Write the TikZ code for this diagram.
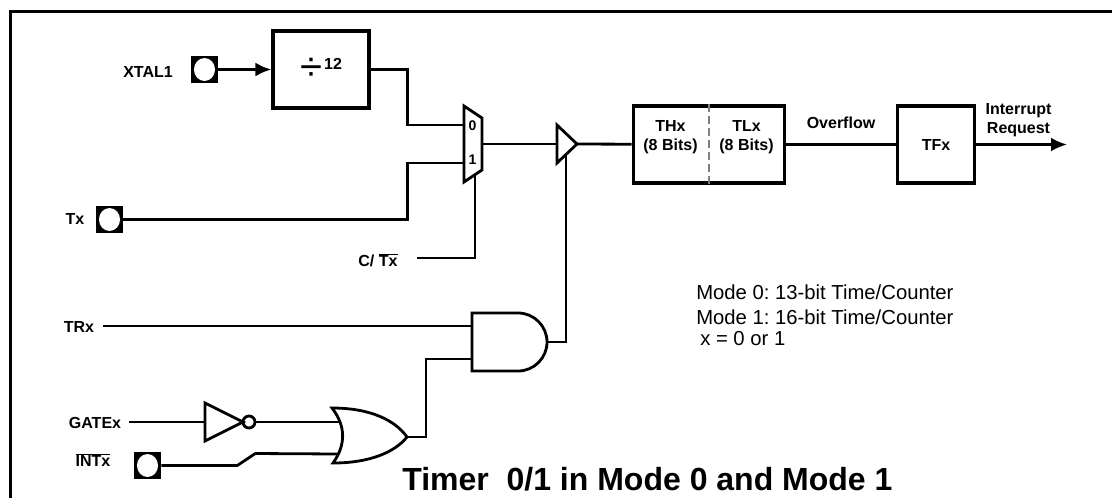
\documentclass[tikz,border=0pt]{standalone}
\usepackage{fontspec}
\setmainfont{Liberation Sans}
\usetikzlibrary{arrows.meta}
\frenchspacing

\tikzset{
        wire/.style={line width=2.1pt},
        blk/.style={draw, rectangle, line width=2.4pt, inner sep=0pt},
        lbl/.style={font=\bfseries\fontsize{12}{14.25}\selectfont, inner sep=0pt, align=center},
        pinbox/.style={rectangle, fill=black, minimum size=20.25pt, inner sep=0pt,
                path picture={\fill[white] (path picture bounding box.center) ellipse (7.9pt and 8.6pt);}},
        arr/.style={wire, -{Latex[length=12pt,width=10.5pt]}},
}

\begin{document}
\begin{tikzpicture}[x=0.75pt, y=-0.75pt]
        \useasboundingbox (0,0) rectangle (1112,497);
        \draw[line width=2.4pt] (1130,11.7) -| (10.4,510);

        \node [lbl] (xtallbl) at (148,72) {XTAL1};
        \node [pinbox] (xtal) at (204.5,69.5) {};
        \node [blk, minimum width=72pt, minimum height=57.75pt] (div) at (321,69.5)
                {{\fontsize{30}{30}\selectfont ÷}\,\raisebox{8pt}{\bfseries\fontsize{12}{12}\selectfont 12}};

        \draw[wire] (464,106) -- (482,118) -- (482,170) -- (464,182) -- cycle;
        \coordinate (mux0) at (464,125);
        \coordinate (mux1) at (464,163);
        \coordinate (muxout) at (482,144);
        \coordinate (muxsel) at (475,174.7);
        \node [lbl, font=\bfseries\fontsize{10.5}{10}\selectfont] (m0) at (472.5,126) {0};
        \node [lbl, font=\bfseries\fontsize{10.5}{10}\selectfont] (m1) at (472.5,160) {1};

        \draw[wire] (557,125) -- (577,144) -- (557,163) -- cycle;
        \coordinate (bufin) at (557,144);
        \coordinate (bufout) at (577,144);
        \coordinate (bufctl) at (566,154.5);

        \node [blk, minimum width=113.6pt, minimum height=57.75pt] (cnt) at (709,144.5) {};
        \draw[gray, line width=0.8pt, dash pattern=on 6pt off 3pt] (cnt.north) -- (cnt.south);
        \node [lbl] (thx) at (670.5,137.5) {THx\\(8 Bits)};
        \node [lbl] (tlx) at (746.5,137.5) {TLx\\(8 Bits)};
        \node [lbl] (ovf) at (841,123) {Overflow};
        \node [blk, lbl, minimum width=57.4pt, minimum height=57.75pt] (tfx) at (936,144.5) {TFx};
        \node [lbl] (irqlbl) at (1018.5,120.5) {Interrupt\\Request};
        \coordinate (irq) at (1067,144.5);

        \node [lbl] (txlbl) at (75,219) {Tx};
        \node [pinbox] (tx) at (109.5,219.5) {};
        \node [lbl] (ctlbl) at (378,260) {C/ $\overline{\hbox{Tx}}$};
        \coordinate (ctin) at (417,258);

        \node [lbl] (trlbl) at (79,327) {TRx};
        \coordinate (trin) at (103,326);
        \draw[wire] (472,313) -- (518,313) arc[start angle=90, end angle=-90, radius=21.75pt] -- (472,371) -- cycle;
        \coordinate (andA) at (472,326);
        \coordinate (andB) at (472,359);
        \coordinate (andout) at (547,342);

        \node [lbl] (gatelbl) at (95,423) {GATEx};
        \coordinate (gatein) at (129,422);
        \coordinate (invin) at (205,422);
        \draw[wire] (205,403) -- (243,422) -- (205,441) -- cycle;
        \node [circle, draw, line width=2.1pt, minimum size=9pt, inner sep=0pt] (bubble) at (249,422) {};
        \draw[wire] (332,408) .. controls (346,426) and (346,445) .. (333,463)
                .. controls (370,463) and (395,452) .. (407,437)
                .. controls (395,420) and (370,408) .. (332,408) -- cycle;
        \coordinate (orA) at (340,422);
        \coordinate (orB) at (339,454);
        \coordinate (orout) at (407,437);

        \node [lbl] (intlbl) at (93,460) {$\overline{\hbox{INTx}}$};
        \node [pinbox] (int) at (147.5,465.5) {};

        \node [font=\bfseries\fontsize{24}{24}\selectfont, anchor=base west, inner sep=0pt] (title) at (402,490)
                {Timer\ \ 0/1 in Mode 0 and Mode 1};
        \node [font=\fontsize{15.2}{17}\selectfont, anchor=west, inner sep=0pt] (mode0) at (696,292) {Mode 0: 13-bit Time/Counter};
        \node [font=\fontsize{15.2}{17}\selectfont, anchor=west, inner sep=0pt] (mode1) at (696,317) {Mode 1: 16-bit Time/Counter};
        \node [font=\fontsize{15.2}{17}\selectfont, anchor=west, inner sep=0pt] (xnote) at (700,339) {x = 0 or 1};

        \draw[arr] (xtal) -- (div);
        \draw[wire] (div.east) -- ++(37,0) |- (mux0);
        \draw[wire] (tx.east) -- ++(284,0) |- (mux1);
        \draw[wire] (ctin) -| (muxsel);
        \draw[wire] (muxout) -- (bufin);
        \draw[wire] (bufout) -- (cnt);
        \draw[wire] (cnt) -- (tfx);
        \draw[arr] (tfx) -- (irq);
        \draw[wire] (trin) -- (andA);
        \draw[wire] (andout) -| (bufctl);
        \draw[wire] (gatein) -- (invin);
        \draw[wire] (bubble) -- (orA);
        \draw[wire] (int.east) -- ++(76,0) -- ++(18,-12) -- (orB);
        \draw[wire] (orout) -- ++(19,0) |- (andB);
\end{tikzpicture}
\end{document}
